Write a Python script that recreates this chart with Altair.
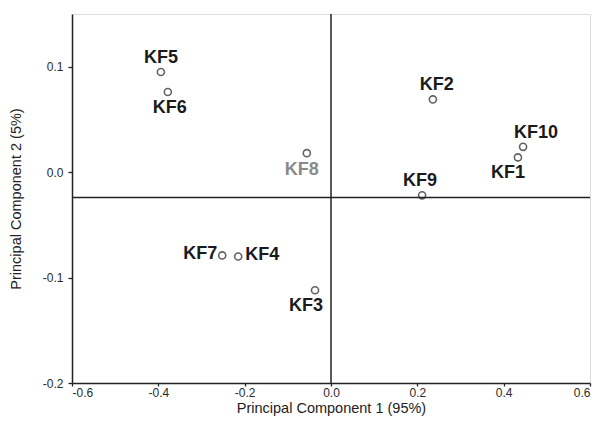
import altair as alt
import pandas as pd

names = ["KF1", "KF2", "KF3", "KF4", "KF5", "KF6", "KF7", "KF8", "KF9", "KF10"]
pc1 = [0.433, 0.236, -0.037, -0.215, -0.394, -0.378, -0.252, -0.056, 0.211, 0.445]
pc2 = [0.014, 0.069, -0.112, -0.080, 0.095, 0.076, -0.079, 0.018, -0.022, 0.024]
# label offsets (pixels) relative to point
dx = [-10, 4, -9, 7, 0, 2, -5, -5, -2, 13]
dy = [16, -14, 16, -1, -14, 16, -1, 17, -14, -14]
align = ["center", "center", "center", "left", "center", "center", "right", "center", "center", "center"]
colors = ["#1a1a1a"] * 7 + ["#8a8a8a"] + ["#1a1a1a"] * 2

x_ticks = [-0.6, -0.4, -0.2, 0.0, 0.2, 0.4, 0.6]
y_ticks = [-0.2, -0.1, 0.0, 0.1]
h_line = -0.024
v_line = 0.0

df = pd.DataFrame({"name": names, "pc1": pc1, "pc2": pc2})

xs = alt.Scale(domain=[-0.6, 0.6], nice=False, zero=False)
ys = alt.Scale(domain=[-0.2, 0.15], nice=False, zero=False)

lbl = "replace(format(datum.value, '.1f'), '\u2212', '-')"

xax = alt.Axis(values=x_ticks, labelExpr=lbl, title="Principal Component 1 (95%)", grid=False,
               domainColor="#222", domainWidth=1.5, tickColor="#222", tickSize=3, tickWidth=1.3,
               labelFont="Liberation Sans", labelFontSize=12, labelColor="#2a2a2a",
               titleFont="Liberation Sans", titleFontSize=14.5, titleFontWeight="normal",
               titleColor="#222", titlePadding=3, labelPadding=1)
yax = alt.Axis(values=y_ticks, labelExpr=lbl, title="Principal Component 2 (5%)", grid=False,
               domainColor="#222", domainWidth=1.5, tickColor="#222", tickSize=4, tickWidth=1.3,
               labelFont="Liberation Sans", labelFontSize=12, labelColor="#2a2a2a",
               titleFont="Liberation Sans", titleFontSize=14.5, titleFontWeight="normal",
               titleColor="#222", titlePadding=19, labelPadding=5)

base = alt.Chart(df)

pts = base.mark_point(shape="circle", filled=False, size=50, strokeWidth=1.6, color="#222").encode(
    x=alt.X("pc1:Q", scale=xs, axis=xax),
    y=alt.Y("pc2:Q", scale=ys, axis=yax),
)

layers = [pts]
for i, n in enumerate(names):
    t = alt.Chart(df[df["name"] == n]).mark_text(
        font="Liberation Sans", fontSize=18, fontWeight="bold", color=colors[i],
        dx=dx[i], dy=dy[i], align=align[i], baseline="middle"
    ).encode(x=alt.X("pc1:Q", scale=xs), y=alt.Y("pc2:Q", scale=ys), text="name:N")
    layers.append(t)

vrule = alt.Chart(pd.DataFrame({"v": [v_line]})).mark_rule(color="#222", strokeWidth=1.5).encode(
    x=alt.X("v:Q", scale=xs))
hrule = alt.Chart(pd.DataFrame({"h": [h_line]})).mark_rule(color="#222", strokeWidth=1.5).encode(
    y=alt.Y("h:Q", scale=ys))

chart = alt.layer(vrule, hrule, *layers).properties(
    width=518, height=369,
    autosize=alt.AutoSizeParams(type="none"),
    padding={"left": 72, "top": 14, "right": 7, "bottom": 54},
).configure_view(stroke="#222", strokeWidth=1.5).configure(background="white")

chart.save("out.html", embed_options={"renderer": "svg", "actions": False})
